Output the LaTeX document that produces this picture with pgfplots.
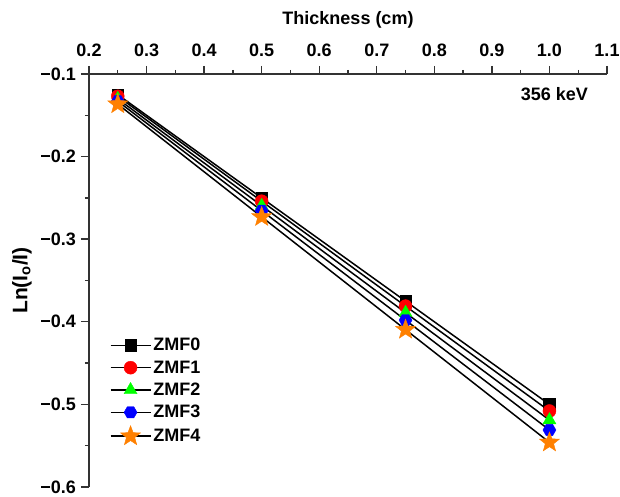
\documentclass[border=0pt]{standalone}
\usepackage{pgfplots}
\pgfplotsset{compat=1.18}
\usepackage{fontspec}
\setmainfont{Liberation Sans}

\definecolor{axisgray}{RGB}{51,51,51}
\definecolor{zorange}{RGB}{255,128,0}

% filled hexagon mark
\pgfdeclareplotmark{hexagon*}{%
  \pgfpathmoveto{\pgfqpointpolar{0}{\pgfplotmarksize}}%
  \pgfpathlineto{\pgfqpointpolar{60}{\pgfplotmarksize}}%
  \pgfpathlineto{\pgfqpointpolar{120}{\pgfplotmarksize}}%
  \pgfpathlineto{\pgfqpointpolar{180}{\pgfplotmarksize}}%
  \pgfpathlineto{\pgfqpointpolar{240}{\pgfplotmarksize}}%
  \pgfpathlineto{\pgfqpointpolar{300}{\pgfplotmarksize}}%
  \pgfpathclose
  \pgfusepathqfillstroke}

% filled five-pointed star mark
\pgfdeclareplotmark{star5*}{%
  \pgfpathmoveto{\pgfqpointpolar{90}{\pgfplotmarksize}}%
  \pgfpathlineto{\pgfqpointpolar{126}{0.42\pgfplotmarksize}}%
  \pgfpathlineto{\pgfqpointpolar{162}{\pgfplotmarksize}}%
  \pgfpathlineto{\pgfqpointpolar{198}{0.42\pgfplotmarksize}}%
  \pgfpathlineto{\pgfqpointpolar{234}{\pgfplotmarksize}}%
  \pgfpathlineto{\pgfqpointpolar{270}{0.42\pgfplotmarksize}}%
  \pgfpathlineto{\pgfqpointpolar{306}{\pgfplotmarksize}}%
  \pgfpathlineto{\pgfqpointpolar{342}{0.42\pgfplotmarksize}}%
  \pgfpathlineto{\pgfqpointpolar{18}{\pgfplotmarksize}}%
  \pgfpathlineto{\pgfqpointpolar{54}{0.42\pgfplotmarksize}}%
  \pgfpathclose
  \pgfusepathqfillstroke}

\pgfplotstableread{
t      z0      z1      z2      z3      z4
0.25  -0.125  -0.127  -0.130  -0.133  -0.1365
0.50  -0.250  -0.254  -0.2595 -0.2655 -0.273
0.75  -0.375  -0.381  -0.389  -0.398  -0.4095
1.00  -0.500  -0.508  -0.519  -0.531  -0.546
}\attdata

\newcommand{\lblfont}{\fontsize{18}{21}\selectfont\bfseries}

\begin{document}
\begin{tikzpicture}
\begin{axis}[
  scale only axis,
  width=518pt, height=413pt,
  xmin=0.2, xmax=1.1,
  ymin=-0.6, ymax=-0.1,
  axis x line=top,
  axis y line=left,
  axis line style={-, axisgray, line width=1.4pt},
  tick style={axisgray, line width=1.4pt},
  tick align=outside,
  major tick length=8pt,
  minor tick length=4pt,
  minor tick num=1,
  xtick={0.2,0.3,0.4,0.5,0.6,0.7,0.8,0.9,1.0,1.1},
  xticklabels={0.2,0.3,0.4,0.5,0.6,0.7,0.8,0.9,1.0,1.1},
  ytick={-0.6,-0.5,-0.4,-0.3,-0.2,-0.1},
  yticklabels={−0.6,−0.5,−0.4,−0.3,−0.2,−0.1},
  ticklabel style={font=\lblfont, text=black, inner sep=1pt},
  xticklabel style={yshift=8pt},
  yticklabel style={xshift=-4pt},
  xlabel={Thickness (cm)},
  ylabel={Ln(I\textsubscript{o}/I)},
  xlabel style={font=\lblfont, yshift=11pt},
  ylabel style={font=\fontsize{21}{24}\selectfont\bfseries},
  ylabel shift=4pt,
  legend cell align=left,
  legend style={draw=none, fill=none, at={(0.034,0.370)}, anchor=north west,
    font=\lblfont, row sep=4.3pt},
  legend image code/.code={%
    \draw[mark repeat=2,mark phase=2,#1] plot coordinates {(0pt,0pt) (20pt,0pt) (40pt,0pt)};},
  every axis plot/.append style={black, line width=1.5pt},
  clip=false,
]
\addplot[mark=square*, mark size=5.8pt, mark options={fill=black, draw=black, line width=0.4pt}]
  table[x=t, y=z0] {\attdata};
\addlegendentry{ZMF0}
\addplot[mark=*, mark size=6.5pt, mark options={fill=red, draw=red, line width=0.4pt}]
  table[x=t, y=z1] {\attdata};
\addlegendentry{ZMF1}
\addplot[mark=triangle*, mark size=7.5pt, mark options={fill=green, draw=green, line width=0.4pt}]
  table[x=t, y=z2] {\attdata};
\addlegendentry{ZMF2}
\addplot[mark=hexagon*, mark size=6.5pt, mark options={fill=blue, draw=blue, line width=0.4pt}]
  table[x=t, y=z3] {\attdata};
\addlegendentry{ZMF3}
\addplot[mark=star5*, mark size=10.5pt, mark options={fill=zorange, draw=zorange, line width=0.4pt}]
  table[x=t, y=z4] {\attdata};
\addlegendentry{ZMF4}
\node[font=\lblfont, anchor=east] at (rel axis cs:0.97,0.952) {356 keV};
\end{axis}
% page margins around the axis box
\pgfresetboundingbox
\path[use as bounding box]
  ([xshift=-89pt,yshift=-10pt]current axis.south west)
  rectangle ([xshift=13pt,yshift=74pt]current axis.north east);
\end{tikzpicture}
\end{document}
